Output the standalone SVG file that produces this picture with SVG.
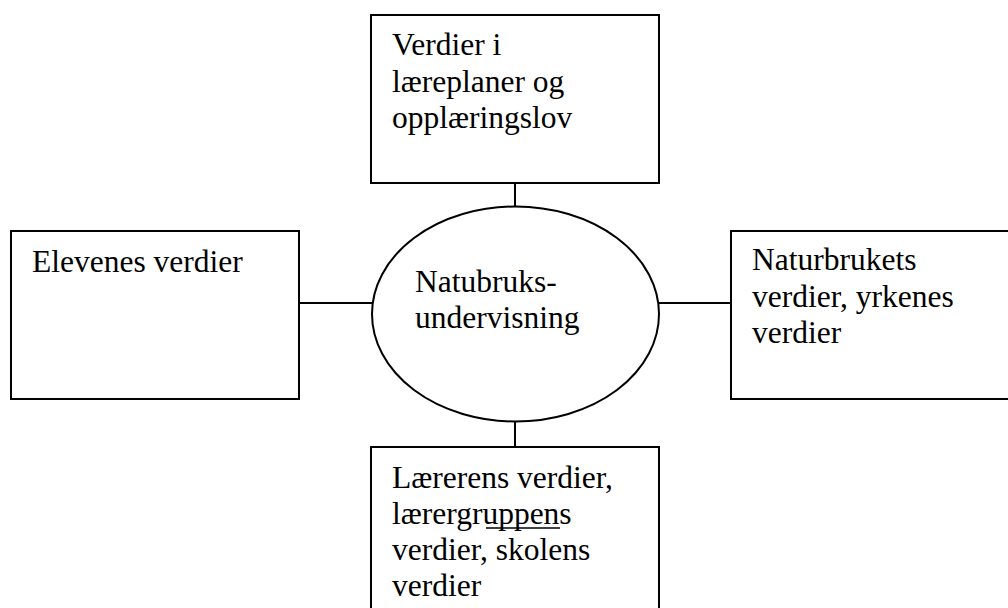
<svg xmlns="http://www.w3.org/2000/svg" width="1008" height="608" viewBox="0 0 1008 608">
<style>
.box{fill:#fff;stroke:#000;stroke-width:2}
.t{font-family:"Liberation Serif","Times New Roman",serif;font-size:31.5px;fill:#000}
.c{stroke:#000;stroke-width:2;fill:none}
</style>
<rect width="1008" height="608" fill="#fff"/>
<g id="connectors">
<line class="c" x1="515" y1="183" x2="515" y2="207"/>
<line class="c" x1="299" y1="303" x2="372" y2="303"/>
<line class="c" x1="659" y1="303" x2="731" y2="303"/>
<line class="c" x1="515" y1="421" x2="515" y2="447"/>
</g>
<g id="top">
<rect class="box" x="371" y="15" width="288" height="168"/>
<text class="t" x="392" y="55">Verdier i</text>
<text class="t" x="392" y="91.5">læreplaner og</text>
<text class="t" x="392" y="128">opplæringslov</text>
</g>
<g id="left">
<rect class="box" x="11" y="231" width="288" height="168"/>
<text class="t" x="32" y="271.5">Elevenes verdier</text>
</g>
<g id="right">
<rect class="box" x="731" y="231" width="290" height="168"/>
<text class="t" x="752" y="270">Naturbrukets</text>
<text class="t" x="752" y="306.5">verdier, yrkenes</text>
<text class="t" x="752" y="343">verdier</text>
</g>
<g id="center">
<ellipse class="box" cx="515.5" cy="314" rx="143.5" ry="107.5"/>
<text class="t" x="415" y="291.5">Natubruks-</text>
<text class="t" x="415" y="328">undervisning</text>
</g>
<g id="bottom">
<rect class="box" x="371" y="447" width="288" height="170"/>
<text class="t" x="392" y="523.5">lærergruppens</text>
<text class="t" x="392" y="488">Lærerens verdier,</text>
<line x1="486" y1="528" x2="560" y2="528" stroke="#000" stroke-width="1.5"/>
<text class="t" x="392" y="560">verdier, skolens</text>
<text class="t" x="392" y="595.5">verdier</text>
</g>
</svg>
